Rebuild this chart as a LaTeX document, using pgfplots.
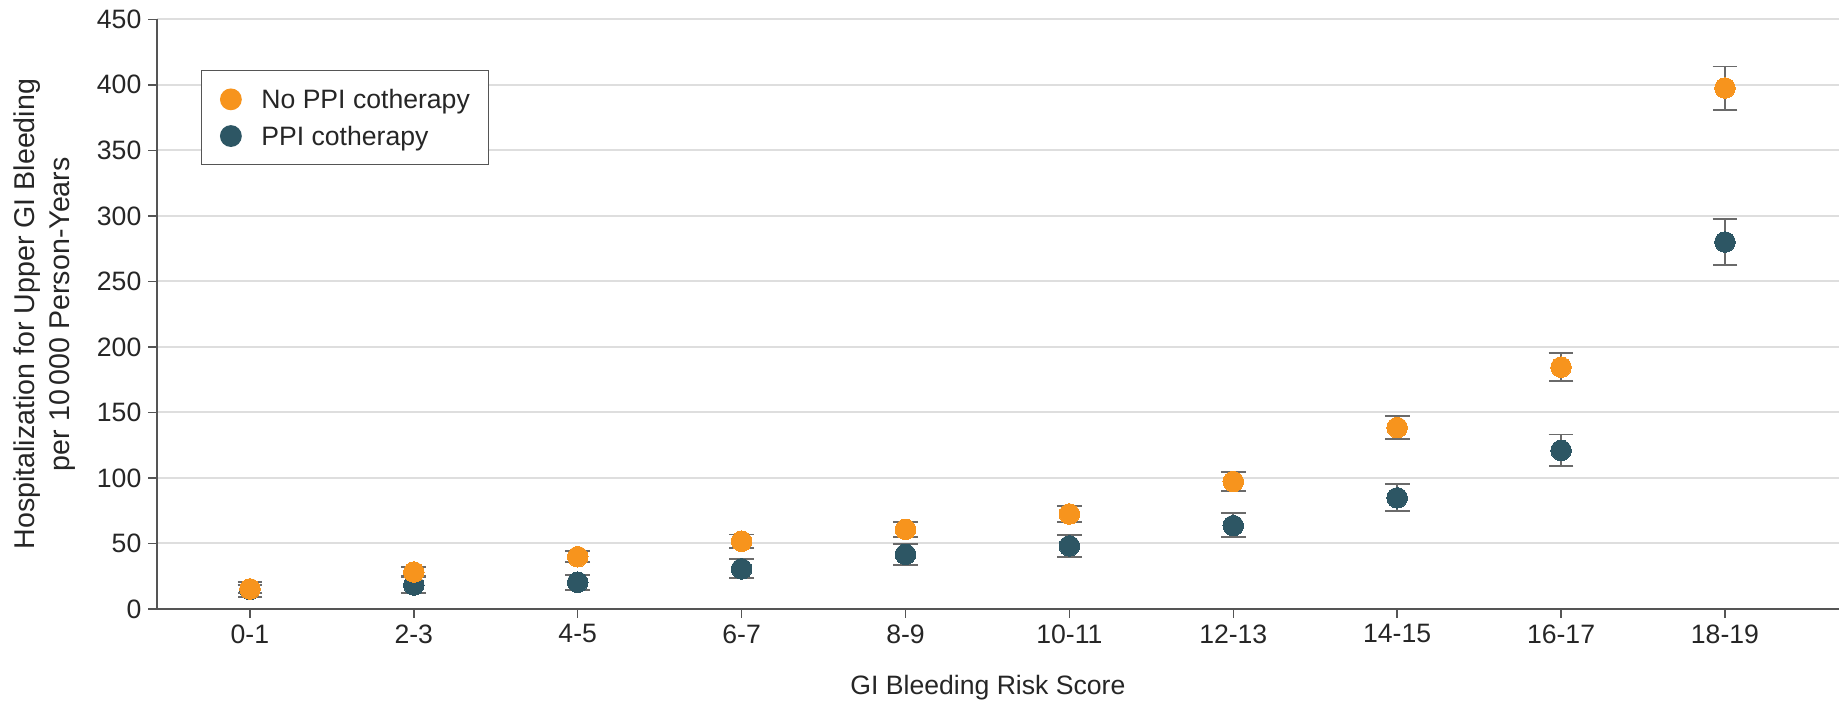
\documentclass[border=0pt]{standalone}
\usepackage{fontspec}
\setmainfont{Liberation Sans}
\usepackage{pgfplots}
\usepackage{pgfplotstable}
\pgfplotsset{compat=1.18}
\definecolor{cOr}{HTML}{F7941D}
\definecolor{cTe}{HTML}{2D5664}
\definecolor{cErr}{HTML}{6A6A6A}
\definecolor{cGrid}{HTML}{DEDEDE}
\definecolor{cAx}{HTML}{555555}
\definecolor{cTxt}{HTML}{262626}

\pgfplotstableread{
x y ep em
0 15.3 3.0 3.3
1 28.2 3.8 3.2
2 39.9 4.3 4.3
3 51.7 5.1 5.1
4 60.8 5.6 5.6
5 72.5 6.1 6.1
6 97.2 7.1 7.2
7 138.4 8.8 8.7
8 184.5 10.6 10.6
9 397.5 16.5 16.7
}\noppi

\pgfplotstableread{
x y ep em
0 15.0 5.8 5.6
1 18.3 6.2 5.9
2 20.4 5.6 5.9
3 30.6 7.4 7.2
4 41.7 7.9 8.1
5 48.1 8.4 8.2
6 63.6 9.4 8.6
7 84.8 10.5 10.2
8 121.0 12.2 11.8
9 280.0 17.4 17.7
}\ppi

\newcommand{\fs}{\fontsize{13.3}{16}\selectfont}

\pgfplotsset{
  ebars/.style={forget plot, only marks, mark=none,
    error bars/.cd, y dir=both, y explicit,
    error bar style={draw=cErr, line width=0.9pt},
    error mark options={rotate=90, mark size=6.2pt, line width=0.9pt, draw=cErr}},
  dots/.style={forget plot, only marks, color=#1, mark=*, mark size=5.15pt,
    mark options={fill=#1, draw=#1, line width=0pt}},
}

\begin{document}
\begin{tikzpicture}
\begin{axis}[
  name=ax,
  scale only axis,
  width=841pt, height=294.85pt,
  xmin=-0.567, xmax=9.696,
  ymin=0, ymax=450,
  ytick={0,50,...,450},
  xtick={0,...,9},
  xticklabels={0-1,2-3,4-5,6-7,8-9,10-11,12-13,14-15,16-17,18-19},
  axis x line*=bottom, axis y line*=left,
  axis line style={cAx, line width=0.7pt},
  tick style={cAx, line width=0.7pt},
  major tick length=4.3pt,
  tick align=outside,
  ymajorgrids,
  major grid style={cGrid, line width=1pt},
  /pgf/number format/assume math mode=true,
  tick label style={font=\fs, text=cTxt},
  every axis x label/.style={at={(axis description cs:0.494,0)}, anchor=base, yshift=-43pt, font=\fs, text=cTxt},
  every axis y label/.style={at={(axis description cs:0,0.5)}, xshift=-40.7pt, rotate=90, anchor=south, align=center, inner sep=0pt, font=\fontsize{14.3}{17.5}\selectfont, text=cTxt},
  xlabel={GI Bleeding Risk Score},
  ylabel={Hospitalization for Upper GI Bleeding\\per 10\,000 Person-Years},
  legend style={at={(axis description cs:0.02616,0.914)}, anchor=north west,
    draw=cAx, line width=0.6pt, inner xsep=9.2pt, inner ysep=5.2pt,
    column sep=9.8pt, row sep=0pt,
    nodes={inner sep=0pt, text height=13.925pt, text depth=4.425pt, font=\fs, text=cTxt}},
  legend cell align=left,
]
\addlegendimage{legend image code/.code={\fill[cOr] (5.15pt,0pt) circle[radius=5.15pt];}}
\addlegendentry{No PPI cotherapy}
\addlegendimage{legend image code/.code={\fill[cTe] (5.15pt,0pt) circle[radius=5.15pt];}}
\addlegendentry{PPI cotherapy}

\addplot[ebars] table[x=x, y=y, y error plus=ep, y error minus=em] {\ppi};
\addplot[ebars] table[x=x, y=y, y error plus=ep, y error minus=em] {\noppi};
\addplot[dots=cTe] table[x=x, y=y] {\ppi};
\addplot[dots=cOr] table[x=x, y=y] {\noppi};
\end{axis}
\pgfresetboundingbox
\useasboundingbox ([xshift=-78.5pt,yshift=-47pt]ax.south west) rectangle ([yshift=9.65pt]ax.north east);
\end{tikzpicture}
\end{document}
